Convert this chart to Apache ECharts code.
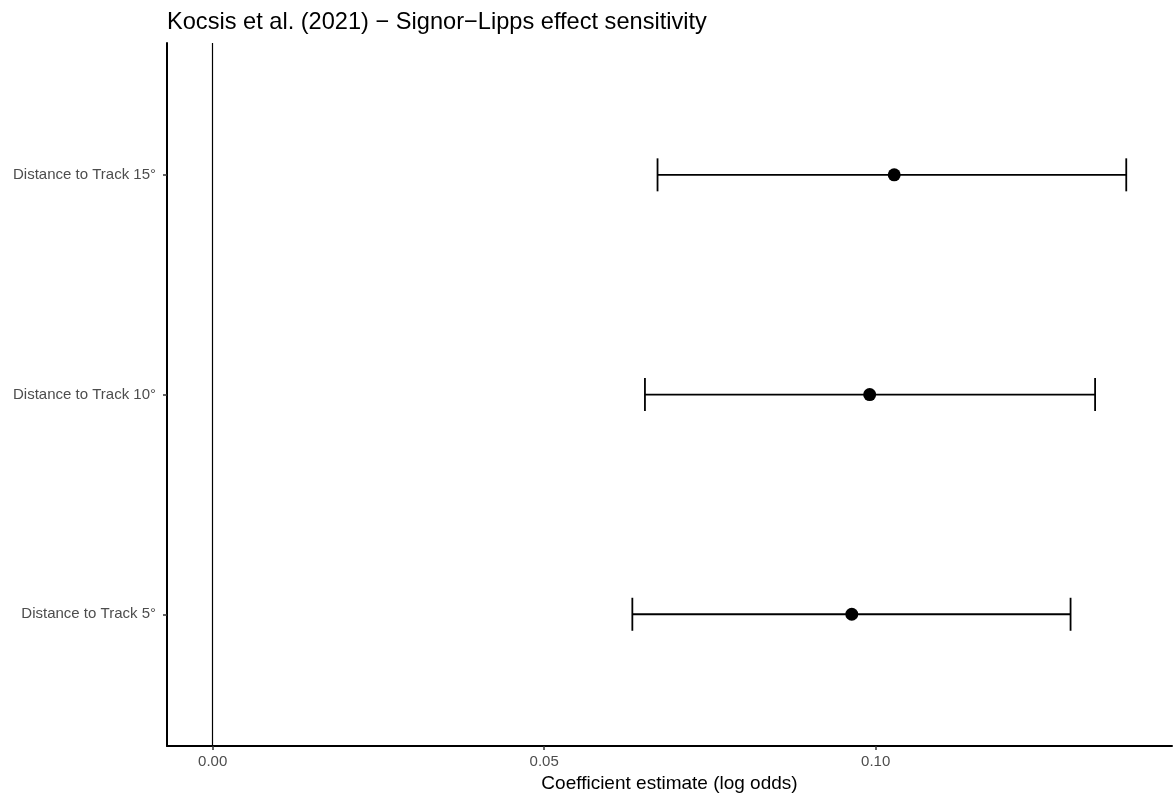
<!DOCTYPE html>
<html>
<head>
<meta charset="utf-8">
<script src="https://cdn.jsdelivr.net/npm/echarts@6/dist/echarts.min.js"></script>
<style>html,body{margin:0;padding:0;background:#fff}#c{width:1173px;height:798px}</style>
</head>
<body>
<div id="c"></div>
<script>
const categories = ['Distance to Track 5°', 'Distance to Track 10°', 'Distance to Track 15°'];
const estimates = [0.0964, 0.0991, 0.1028];
const lower = [0.0633, 0.0652, 0.0671];
const upper = [0.1294, 0.1331, 0.1378];
const xTicks = [0, 0.05, 0.10];
const titleText = 'Kocsis et al. (2021) \u2212 Signor\u2212Lipps effect sensitivity';
const xName = 'Coefficient estimate (log odds)';

const FONT = 'Liberation Sans, Arial, sans-serif';
const chart = echarts.init(document.getElementById('c'));
const yPos = categories.map((c, i) => i + 1);
const barData = categories.map((c, i) => [lower[i], upper[i], yPos[i]]);
const pointData = categories.map((c, i) => [estimates[i], yPos[i]]);

chart.setOption({
  animation: false,
  backgroundColor: '#ffffff',
  title: {
    text: titleText, left: 162, top: 5,
    textStyle: {fontFamily: FONT, fontSize: 23.6, fontWeight: 'normal', color: '#000'}
  },
  grid: {left: 167, right: 1, top: 43, bottom: 48, containLabel: false},
  xAxis: {
    type: 'value', min: -0.00689, max: 0.1447,
    name: xName, nameLocation: 'middle', nameGap: 25,
    nameTextStyle: {fontFamily: FONT, fontSize: 19, color: '#000'},
    axisLine: {show: true, onZero: false, lineStyle: {color: '#000', width: 2}},
    axisTick: {show: true, customValues: xTicks, length: 4, lineStyle: {color: '#333', width: 1.5}},
    axisLabel: {customValues: xTicks, formatter: v => v.toFixed(2), fontFamily: FONT, fontSize: 15, color: '#4d4d4d', margin: 8},
    splitLine: {show: false}
  },
  yAxis: {
    type: 'value', min: 0.4, max: 3.6,
    axisLine: {show: true, onZero: false, lineStyle: {color: '#000', width: 2}},
    axisTick: {show: true, customValues: yPos, length: 4, lineStyle: {color: '#333', width: 1.5}},
    axisLabel: {customValues: yPos, formatter: v => categories[Math.round(v) - 1] || '', fontFamily: FONT, fontSize: 15, color: '#4d4d4d', margin: 11},
    splitLine: {show: false}
  },
  series: [
    {
      type: 'custom',
      data: barData,
      encode: {x: [0, 1], y: 2},
      renderItem: function (params, api) {
        const p1 = api.coord([api.value(0), api.value(2)]);
        const p2 = api.coord([api.value(1), api.value(2)]);
        const h = 16.5;
        const style = {stroke: '#000', lineWidth: 1.8, fill: null};
        return {
          type: 'group',
          children: [
            {type: 'line', shape: {x1: p1[0], y1: p1[1], x2: p2[0], y2: p2[1]}, style: style},
            {type: 'line', shape: {x1: p1[0], y1: p1[1] - h, x2: p1[0], y2: p1[1] + h}, style: style},
            {type: 'line', shape: {x1: p2[0], y1: p2[1] - h, x2: p2[0], y2: p2[1] + h}, style: style}
          ]
        };
      },
      z: 2
    },
    {
      type: 'scatter',
      data: pointData,
      symbol: 'circle', symbolSize: 13,
      itemStyle: {color: '#000', opacity: 1},
      z: 3,
      markLine: {
        silent: true, symbol: ['none', 'none'],
        label: {show: false},
        lineStyle: {color: '#000', width: 1.2, type: 'solid'},
        data: [{xAxis: 0}]
      }
    }
  ]
});
</script>
</body>
</html>
